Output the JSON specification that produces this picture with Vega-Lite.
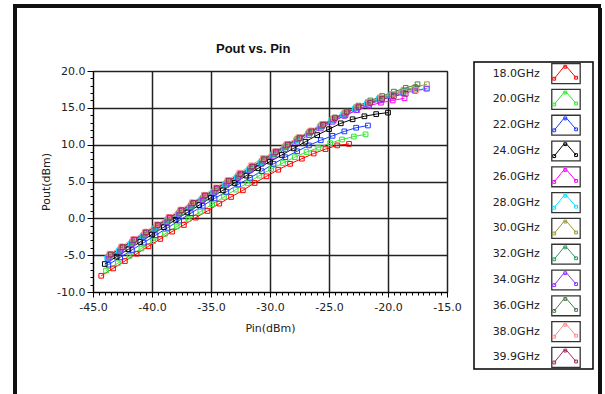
{
  "$schema": "https://vega.github.io/schema/vega-lite/v6.json",
  "padding": {"left": 13, "top": 4, "right": 4, "bottom": 0},
  "background": "white",
  "config": {"font": "DejaVu Sans", "view": {"stroke": null}},
  "title": {
    "text": "Pout vs. Pin",
    "font": "Liberation Sans", "fontSize": 13, "fontWeight": "bold", "color": "#111111",
    "anchor": "start", "dx": 203, "offset": -52
  },
  "datasets": {
    "leg": [
      {"f": "18.0GHz"}, {"f": "20.0GHz"}, {"f": "22.0GHz"}, {"f": "24.0GHz"}, {"f": "26.0GHz"}, {"f": "28.0GHz"},
      {"f": "30.0GHz"}, {"f": "32.0GHz"}, {"f": "34.0GHz"}, {"f": "36.0GHz"}, {"f": "38.0GHz"}, {"f": "39.9GHz"}
    ],
    "pts": [
      {"f":"18.0GHz","pin":-44.3,"pout":-7.8},{"f":"18.0GHz","pin":-43.3,"pout":-6.8},{"f":"18.0GHz","pin":-42.3,"pout":-5.8},{"f":"18.0GHz","pin":-41.3,"pout":-4.8},{"f":"18.0GHz","pin":-40.3,"pout":-3.8},{"f":"18.0GHz","pin":-39.3,"pout":-2.8},{"f":"18.0GHz","pin":-38.3,"pout":-1.8},{"f":"18.0GHz","pin":-37.3,"pout":-0.9},{"f":"18.0GHz","pin":-36.3,"pout":0.1},{"f":"18.0GHz","pin":-35.3,"pout":1.0},{"f":"18.0GHz","pin":-34.3,"pout":2.0},{"f":"18.0GHz","pin":-33.3,"pout":2.9},{"f":"18.0GHz","pin":-32.3,"pout":3.8},{"f":"18.0GHz","pin":-31.3,"pout":4.8},{"f":"18.0GHz","pin":-30.3,"pout":5.7},{"f":"18.0GHz","pin":-29.3,"pout":6.6},{"f":"18.0GHz","pin":-28.3,"pout":7.4},{"f":"18.0GHz","pin":-27.3,"pout":8.1},{"f":"18.0GHz","pin":-26.3,"pout":8.8},{"f":"18.0GHz","pin":-25.3,"pout":9.4},{"f":"18.0GHz","pin":-24.3,"pout":9.9},{"f":"18.0GHz","pin":-23.3,"pout":10.1},
      {"f":"20.0GHz","pin":-43.9,"pout":-7.1},{"f":"20.0GHz","pin":-42.9,"pout":-6.1},{"f":"20.0GHz","pin":-41.9,"pout":-5.1},{"f":"20.0GHz","pin":-40.9,"pout":-4.1},{"f":"20.0GHz","pin":-39.9,"pout":-3.1},{"f":"20.0GHz","pin":-38.9,"pout":-2.1},{"f":"20.0GHz","pin":-37.9,"pout":-1.1},{"f":"20.0GHz","pin":-36.9,"pout":-0.1},{"f":"20.0GHz","pin":-35.9,"pout":0.9},{"f":"20.0GHz","pin":-34.9,"pout":1.9},{"f":"20.0GHz","pin":-33.9,"pout":2.9},{"f":"20.0GHz","pin":-32.9,"pout":3.9},{"f":"20.0GHz","pin":-31.9,"pout":4.8},{"f":"20.0GHz","pin":-30.9,"pout":5.8},{"f":"20.0GHz","pin":-29.9,"pout":6.7},{"f":"20.0GHz","pin":-28.9,"pout":7.5},{"f":"20.0GHz","pin":-27.9,"pout":8.3},{"f":"20.0GHz","pin":-26.9,"pout":9.0},{"f":"20.0GHz","pin":-25.9,"pout":9.6},{"f":"20.0GHz","pin":-24.9,"pout":10.2},{"f":"20.0GHz","pin":-23.9,"pout":10.7},{"f":"20.0GHz","pin":-22.9,"pout":11.1},{"f":"20.0GHz","pin":-21.9,"pout":11.4},
      {"f":"22.0GHz","pin":-43.7,"pout":-6.3},{"f":"22.0GHz","pin":-42.7,"pout":-5.3},{"f":"22.0GHz","pin":-41.7,"pout":-4.3},{"f":"22.0GHz","pin":-40.7,"pout":-3.3},{"f":"22.0GHz","pin":-39.7,"pout":-2.3},{"f":"22.0GHz","pin":-38.7,"pout":-1.3},{"f":"22.0GHz","pin":-37.7,"pout":-0.3},{"f":"22.0GHz","pin":-36.7,"pout":0.7},{"f":"22.0GHz","pin":-35.7,"pout":1.7},{"f":"22.0GHz","pin":-34.7,"pout":2.7},{"f":"22.0GHz","pin":-33.7,"pout":3.6},{"f":"22.0GHz","pin":-32.7,"pout":4.6},{"f":"22.0GHz","pin":-31.7,"pout":5.5},{"f":"22.0GHz","pin":-30.7,"pout":6.4},{"f":"22.0GHz","pin":-29.7,"pout":7.4},{"f":"22.0GHz","pin":-28.7,"pout":8.3},{"f":"22.0GHz","pin":-27.7,"pout":9.1},{"f":"22.0GHz","pin":-26.7,"pout":9.9},{"f":"22.0GHz","pin":-25.7,"pout":10.6},{"f":"22.0GHz","pin":-24.7,"pout":11.2},{"f":"22.0GHz","pin":-23.7,"pout":11.8},{"f":"22.0GHz","pin":-22.7,"pout":12.3},{"f":"22.0GHz","pin":-21.7,"pout":12.6},
      {"f":"24.0GHz","pin":-44,"pout":-6.2},{"f":"24.0GHz","pin":-43,"pout":-5.2},{"f":"24.0GHz","pin":-42,"pout":-4.2},{"f":"24.0GHz","pin":-41,"pout":-3.2},{"f":"24.0GHz","pin":-40,"pout":-2.2},{"f":"24.0GHz","pin":-39,"pout":-1.2},{"f":"24.0GHz","pin":-38,"pout":-0.2},{"f":"24.0GHz","pin":-37,"pout":0.8},{"f":"24.0GHz","pin":-36,"pout":1.8},{"f":"24.0GHz","pin":-35,"pout":2.8},{"f":"24.0GHz","pin":-34,"pout":3.8},{"f":"24.0GHz","pin":-33,"pout":4.8},{"f":"24.0GHz","pin":-32,"pout":5.8},{"f":"24.0GHz","pin":-31,"pout":6.8},{"f":"24.0GHz","pin":-30,"pout":7.7},{"f":"24.0GHz","pin":-29,"pout":8.6},{"f":"24.0GHz","pin":-28,"pout":9.5},{"f":"24.0GHz","pin":-27,"pout":10.4},{"f":"24.0GHz","pin":-26,"pout":11.3},{"f":"24.0GHz","pin":-25,"pout":12.1},{"f":"24.0GHz","pin":-24,"pout":12.9},{"f":"24.0GHz","pin":-23,"pout":13.45},{"f":"24.0GHz","pin":-22,"pout":13.85},{"f":"24.0GHz","pin":-21,"pout":14.15},{"f":"24.0GHz","pin":-20,"pout":14.35},
      {"f":"26.0GHz","pin":-43.6,"pout":-5.0},{"f":"26.0GHz","pin":-42.6,"pout":-4.0},{"f":"26.0GHz","pin":-41.6,"pout":-3.0},{"f":"26.0GHz","pin":-40.6,"pout":-2.0},{"f":"26.0GHz","pin":-39.6,"pout":-1.0},{"f":"26.0GHz","pin":-38.6,"pout":0.0},{"f":"26.0GHz","pin":-37.6,"pout":1.0},{"f":"26.0GHz","pin":-36.6,"pout":2.0},{"f":"26.0GHz","pin":-35.6,"pout":3.0},{"f":"26.0GHz","pin":-34.6,"pout":4.0},{"f":"26.0GHz","pin":-33.6,"pout":5.0},{"f":"26.0GHz","pin":-32.6,"pout":5.9},{"f":"26.0GHz","pin":-31.6,"pout":6.9},{"f":"26.0GHz","pin":-30.6,"pout":7.9},{"f":"26.0GHz","pin":-29.6,"pout":8.9},{"f":"26.0GHz","pin":-28.6,"pout":9.9},{"f":"26.0GHz","pin":-27.6,"pout":10.8},{"f":"26.0GHz","pin":-26.6,"pout":11.7},{"f":"26.0GHz","pin":-25.6,"pout":12.5},{"f":"26.0GHz","pin":-24.6,"pout":13.3},{"f":"26.0GHz","pin":-23.6,"pout":14.0},{"f":"26.0GHz","pin":-22.6,"pout":14.7},{"f":"26.0GHz","pin":-21.6,"pout":15.3},{"f":"26.0GHz","pin":-20.6,"pout":15.7},{"f":"26.0GHz","pin":-19.6,"pout":16.0},{"f":"26.0GHz","pin":-18.6,"pout":16.3},
      {"f":"28.0GHz","pin":-43.8,"pout":-5.4},{"f":"28.0GHz","pin":-42.8,"pout":-4.4},{"f":"28.0GHz","pin":-41.8,"pout":-3.4},{"f":"28.0GHz","pin":-40.8,"pout":-2.4},{"f":"28.0GHz","pin":-39.8,"pout":-1.4},{"f":"28.0GHz","pin":-38.8,"pout":-0.4},{"f":"28.0GHz","pin":-37.8,"pout":0.6},{"f":"28.0GHz","pin":-36.8,"pout":1.6},{"f":"28.0GHz","pin":-35.8,"pout":2.6},{"f":"28.0GHz","pin":-34.8,"pout":3.6},{"f":"28.0GHz","pin":-33.8,"pout":4.6},{"f":"28.0GHz","pin":-32.8,"pout":5.6},{"f":"28.0GHz","pin":-31.8,"pout":6.6},{"f":"28.0GHz","pin":-30.8,"pout":7.6},{"f":"28.0GHz","pin":-29.8,"pout":8.6},{"f":"28.0GHz","pin":-28.8,"pout":9.6},{"f":"28.0GHz","pin":-27.8,"pout":10.6},{"f":"28.0GHz","pin":-26.8,"pout":11.5},{"f":"28.0GHz","pin":-25.8,"pout":12.4},{"f":"28.0GHz","pin":-24.8,"pout":13.3},{"f":"28.0GHz","pin":-23.8,"pout":14.1},{"f":"28.0GHz","pin":-22.8,"pout":14.9},{"f":"28.0GHz","pin":-21.8,"pout":15.6},{"f":"28.0GHz","pin":-20.8,"pout":16.2},{"f":"28.0GHz","pin":-19.8,"pout":16.7},{"f":"28.0GHz","pin":-18.8,"pout":17.1},{"f":"28.0GHz","pin":-17.8,"pout":17.4},{"f":"28.0GHz","pin":-16.8,"pout":17.6},
      {"f":"30.0GHz","pin":-43.7,"pout":-5.2},{"f":"30.0GHz","pin":-42.7,"pout":-4.2},{"f":"30.0GHz","pin":-41.7,"pout":-3.2},{"f":"30.0GHz","pin":-40.7,"pout":-2.2},{"f":"30.0GHz","pin":-39.7,"pout":-1.2},{"f":"30.0GHz","pin":-38.7,"pout":-0.2},{"f":"30.0GHz","pin":-37.7,"pout":0.8},{"f":"30.0GHz","pin":-36.7,"pout":1.8},{"f":"30.0GHz","pin":-35.7,"pout":2.8},{"f":"30.0GHz","pin":-34.7,"pout":3.8},{"f":"30.0GHz","pin":-33.7,"pout":4.8},{"f":"30.0GHz","pin":-32.7,"pout":5.8},{"f":"30.0GHz","pin":-31.7,"pout":6.8},{"f":"30.0GHz","pin":-30.7,"pout":7.8},{"f":"30.0GHz","pin":-29.7,"pout":8.8},{"f":"30.0GHz","pin":-28.7,"pout":9.8},{"f":"30.0GHz","pin":-27.7,"pout":10.8},{"f":"30.0GHz","pin":-26.7,"pout":11.7},{"f":"30.0GHz","pin":-25.7,"pout":12.6},{"f":"30.0GHz","pin":-24.7,"pout":13.5},{"f":"30.0GHz","pin":-23.7,"pout":14.3},{"f":"30.0GHz","pin":-22.7,"pout":15.1},{"f":"30.0GHz","pin":-21.7,"pout":15.8},{"f":"30.0GHz","pin":-20.7,"pout":16.4},{"f":"30.0GHz","pin":-19.7,"pout":16.9},{"f":"30.0GHz","pin":-18.7,"pout":17.4},{"f":"30.0GHz","pin":-17.7,"pout":17.8},{"f":"30.0GHz","pin":-16.7,"pout":18.2},
      {"f":"32.0GHz","pin":-43.6,"pout":-5.3},{"f":"32.0GHz","pin":-42.6,"pout":-4.3},{"f":"32.0GHz","pin":-41.6,"pout":-3.3},{"f":"32.0GHz","pin":-40.6,"pout":-2.3},{"f":"32.0GHz","pin":-39.6,"pout":-1.3},{"f":"32.0GHz","pin":-38.6,"pout":-0.3},{"f":"32.0GHz","pin":-37.6,"pout":0.7},{"f":"32.0GHz","pin":-36.6,"pout":1.7},{"f":"32.0GHz","pin":-35.6,"pout":2.7},{"f":"32.0GHz","pin":-34.6,"pout":3.7},{"f":"32.0GHz","pin":-33.6,"pout":4.7},{"f":"32.0GHz","pin":-32.6,"pout":5.7},{"f":"32.0GHz","pin":-31.6,"pout":6.7},{"f":"32.0GHz","pin":-30.6,"pout":7.7},{"f":"32.0GHz","pin":-29.6,"pout":8.7},{"f":"32.0GHz","pin":-28.6,"pout":9.7},{"f":"32.0GHz","pin":-27.6,"pout":10.7},{"f":"32.0GHz","pin":-26.6,"pout":11.6},{"f":"32.0GHz","pin":-25.6,"pout":12.5},{"f":"32.0GHz","pin":-24.6,"pout":13.4},{"f":"32.0GHz","pin":-23.6,"pout":14.2},{"f":"32.0GHz","pin":-22.6,"pout":15.0},{"f":"32.0GHz","pin":-21.6,"pout":15.7},{"f":"32.0GHz","pin":-20.6,"pout":16.3},{"f":"32.0GHz","pin":-19.6,"pout":16.8},{"f":"32.0GHz","pin":-18.6,"pout":17.3},{"f":"32.0GHz","pin":-17.6,"pout":17.7},
      {"f":"34.0GHz","pin":-43.7,"pout":-5.5},{"f":"34.0GHz","pin":-42.7,"pout":-4.5},{"f":"34.0GHz","pin":-41.7,"pout":-3.5},{"f":"34.0GHz","pin":-40.7,"pout":-2.5},{"f":"34.0GHz","pin":-39.7,"pout":-1.5},{"f":"34.0GHz","pin":-38.7,"pout":-0.5},{"f":"34.0GHz","pin":-37.7,"pout":0.5},{"f":"34.0GHz","pin":-36.7,"pout":1.5},{"f":"34.0GHz","pin":-35.7,"pout":2.5},{"f":"34.0GHz","pin":-34.7,"pout":3.5},{"f":"34.0GHz","pin":-33.7,"pout":4.5},{"f":"34.0GHz","pin":-32.7,"pout":5.5},{"f":"34.0GHz","pin":-31.7,"pout":6.5},{"f":"34.0GHz","pin":-30.7,"pout":7.4},{"f":"34.0GHz","pin":-29.7,"pout":8.4},{"f":"34.0GHz","pin":-28.7,"pout":9.4},{"f":"34.0GHz","pin":-27.7,"pout":10.4},{"f":"34.0GHz","pin":-26.7,"pout":11.3},{"f":"34.0GHz","pin":-25.7,"pout":12.2},{"f":"34.0GHz","pin":-24.7,"pout":13.1},{"f":"34.0GHz","pin":-23.7,"pout":13.9},{"f":"34.0GHz","pin":-22.7,"pout":14.7},{"f":"34.0GHz","pin":-21.7,"pout":15.4},{"f":"34.0GHz","pin":-20.7,"pout":16.0},{"f":"34.0GHz","pin":-19.7,"pout":16.5},{"f":"34.0GHz","pin":-18.7,"pout":17.0},{"f":"34.0GHz","pin":-17.7,"pout":17.3},{"f":"34.0GHz","pin":-16.7,"pout":17.6},
      {"f":"36.0GHz","pin":-43.5,"pout":-4.9},{"f":"36.0GHz","pin":-42.5,"pout":-3.9},{"f":"36.0GHz","pin":-41.5,"pout":-2.9},{"f":"36.0GHz","pin":-40.5,"pout":-1.9},{"f":"36.0GHz","pin":-39.5,"pout":-0.9},{"f":"36.0GHz","pin":-38.5,"pout":0.1},{"f":"36.0GHz","pin":-37.5,"pout":1.1},{"f":"36.0GHz","pin":-36.5,"pout":2.1},{"f":"36.0GHz","pin":-35.5,"pout":3.1},{"f":"36.0GHz","pin":-34.5,"pout":4.1},{"f":"36.0GHz","pin":-33.5,"pout":5.1},{"f":"36.0GHz","pin":-32.5,"pout":6.1},{"f":"36.0GHz","pin":-31.5,"pout":7.1},{"f":"36.0GHz","pin":-30.5,"pout":8.1},{"f":"36.0GHz","pin":-29.5,"pout":9.1},{"f":"36.0GHz","pin":-28.5,"pout":10.1},{"f":"36.0GHz","pin":-27.5,"pout":11.0},{"f":"36.0GHz","pin":-26.5,"pout":11.9},{"f":"36.0GHz","pin":-25.5,"pout":12.8},{"f":"36.0GHz","pin":-24.5,"pout":13.7},{"f":"36.0GHz","pin":-23.5,"pout":14.5},{"f":"36.0GHz","pin":-22.5,"pout":15.3},{"f":"36.0GHz","pin":-21.5,"pout":16.0},{"f":"36.0GHz","pin":-20.5,"pout":16.6},{"f":"36.0GHz","pin":-19.5,"pout":17.2},{"f":"36.0GHz","pin":-18.5,"pout":17.7},{"f":"36.0GHz","pin":-17.5,"pout":18.2},
      {"f":"38.0GHz","pin":-43.6,"pout":-4.8},{"f":"38.0GHz","pin":-42.6,"pout":-3.8},{"f":"38.0GHz","pin":-41.6,"pout":-2.8},{"f":"38.0GHz","pin":-40.6,"pout":-1.8},{"f":"38.0GHz","pin":-39.6,"pout":-0.8},{"f":"38.0GHz","pin":-38.6,"pout":0.2},{"f":"38.0GHz","pin":-37.6,"pout":1.2},{"f":"38.0GHz","pin":-36.6,"pout":2.2},{"f":"38.0GHz","pin":-35.6,"pout":3.2},{"f":"38.0GHz","pin":-34.6,"pout":4.2},{"f":"38.0GHz","pin":-33.6,"pout":5.2},{"f":"38.0GHz","pin":-32.6,"pout":6.2},{"f":"38.0GHz","pin":-31.6,"pout":7.2},{"f":"38.0GHz","pin":-30.6,"pout":8.2},{"f":"38.0GHz","pin":-29.6,"pout":9.1},{"f":"38.0GHz","pin":-28.6,"pout":10.1},{"f":"38.0GHz","pin":-27.6,"pout":11.0},{"f":"38.0GHz","pin":-26.6,"pout":11.9},{"f":"38.0GHz","pin":-25.6,"pout":12.8},{"f":"38.0GHz","pin":-24.6,"pout":13.6},{"f":"38.0GHz","pin":-23.6,"pout":14.4},{"f":"38.0GHz","pin":-22.6,"pout":15.1},{"f":"38.0GHz","pin":-21.6,"pout":15.8},{"f":"38.0GHz","pin":-20.6,"pout":16.4},{"f":"38.0GHz","pin":-19.6,"pout":16.9},{"f":"38.0GHz","pin":-18.6,"pout":17.2},{"f":"38.0GHz","pin":-17.6,"pout":17.4},
      {"f":"39.9GHz","pin":-43.5,"pout":-4.9},{"f":"39.9GHz","pin":-42.5,"pout":-3.9},{"f":"39.9GHz","pin":-41.5,"pout":-2.9},{"f":"39.9GHz","pin":-40.5,"pout":-1.9},{"f":"39.9GHz","pin":-39.5,"pout":-0.9},{"f":"39.9GHz","pin":-38.5,"pout":0.1},{"f":"39.9GHz","pin":-37.5,"pout":1.1},{"f":"39.9GHz","pin":-36.5,"pout":2.1},{"f":"39.9GHz","pin":-35.5,"pout":3.1},{"f":"39.9GHz","pin":-34.5,"pout":4.1},{"f":"39.9GHz","pin":-33.5,"pout":5.1},{"f":"39.9GHz","pin":-32.5,"pout":6.0},{"f":"39.9GHz","pin":-31.5,"pout":7.0},{"f":"39.9GHz","pin":-30.5,"pout":8.0},{"f":"39.9GHz","pin":-29.5,"pout":9.0},{"f":"39.9GHz","pin":-28.5,"pout":10.0},{"f":"39.9GHz","pin":-27.5,"pout":10.9},{"f":"39.9GHz","pin":-26.5,"pout":11.8},{"f":"39.9GHz","pin":-25.5,"pout":12.7},{"f":"39.9GHz","pin":-24.5,"pout":13.6},{"f":"39.9GHz","pin":-23.5,"pout":14.4},{"f":"39.9GHz","pin":-22.5,"pout":15.1},{"f":"39.9GHz","pin":-21.5,"pout":15.7},{"f":"39.9GHz","pin":-20.5,"pout":16.2},{"f":"39.9GHz","pin":-19.5,"pout":16.6},{"f":"39.9GHz","pin":-18.5,"pout":16.9}
    ]
  },
  "spacing": 0,
  "vconcat": [
    {
      "width": 588, "height": 4,
      "view": {"fill": "#111111", "stroke": null},
      "data": {"values": []},
      "mark": "rect"
    },
    {
      "spacing": 23,
      "hconcat": [
        {
          "width": 4, "height": 386,
          "view": {"fill": "#111111", "stroke": null},
          "data": {"values": []},
          "mark": "rect"
        },
        {
          "spacing": 4,
          "hconcat": [
            {
              "spacing": 0,
              "vconcat": [
                {
                  "width": 1, "height": 52,
                  "view": {"stroke": null},
                  "data": {"values": []},
                  "mark": "rect"
                },
                {
                  "spacing": 11,
                  "hconcat": [
                    {
                      "spacing": 0,
                      "vconcat": [
                        {
                          "width": 1, "height": 1.5,
                          "view": {"stroke": null},
                          "data": {"values": []},
                          "mark": "rect"
                        },
                        {
                          "width": 354, "height": 221,
                          "view": {"stroke": "#000000", "strokeWidth": 1},
                          "data": {"name": "pts"},
                          "layer": [
                            {
                              "mark": {"type": "line", "strokeWidth": 1},
                              "encoding": {
                                "x": {"field": "pin", "type": "quantitative", "scale": {"domain": [-45, -15], "nice": false, "zero": false},
                                  "axis": {"orient": "bottom", "values": [-45, -40, -35, -30, -25, -20, -15], "format": ".1f", "labelExpr": "replace(datum.label, '\u2212', '-')", "grid": true, "gridColor": "#222222", "gridWidth": 1.5,
                                    "domainColor": "#000000", "tickColor": "#000000", "tickSize": 5, "labelFontSize": 11, "labelColor": "#222222", "labelPadding": 4,
                                    "labelFlush": false, "labelOverlap": false, "title": "Pin(dBm)", "titleFontSize": 11, "titleFontWeight": "normal", "titleColor": "#222222", "titlePadding": 10}},
                                "y": {"field": "pout", "type": "quantitative", "scale": {"domain": [-10, 20], "nice": false, "zero": false},
                                  "axis": {"orient": "left", "values": [-10, -5, 0, 5, 10, 15, 20], "format": ".1f", "labelExpr": "replace(datum.label, '\u2212', '-')", "grid": true, "gridColor": "#222222", "gridWidth": 1.5,
                                    "domainColor": "#000000", "tickColor": "#000000", "tickSize": 6, "labelFontSize": 11, "labelColor": "#222222", "labelPadding": 2,
                                    "labelOverlap": false, "title": "Pout(dBm)", "titleFontSize": 11, "titleFontWeight": "normal", "titleColor": "#222222", "titlePadding": 5}},
                                "color": {"field": "f", "type": "nominal", "legend": null,
                                  "scale": {"domain": ["18.0GHz", "20.0GHz", "22.0GHz", "24.0GHz", "26.0GHz", "28.0GHz", "30.0GHz", "32.0GHz", "34.0GHz", "36.0GHz", "38.0GHz", "39.9GHz"],
                                    "range": ["#ff0000", "#33e633", "#1a3cff", "#000000", "#ff00ff", "#00e5ff", "#999933", "#2e9960", "#8c33ff", "#4a7a4a", "#ff8c8c", "#9c2b5e"]}}
                              }
                            },
                            {
                              "mark": {"type": "point", "shape": "square", "size": 22, "filled": false, "strokeWidth": 1, "opacity": 1},
                              "encoding": {
                                "x": {"field": "pin", "type": "quantitative", "scale": {"domain": [-45, -15], "nice": false, "zero": false}, "axis": null},
                                "y": {"field": "pout", "type": "quantitative", "scale": {"domain": [-10, 20], "nice": false, "zero": false}, "axis": null},
                                "color": {"field": "f", "type": "nominal", "legend": null}
                              }
                            },
                            {
                              "mark": {"type": "point", "opacity": 0},
                              "encoding": {
                                "x": {"field": "pin", "type": "quantitative", "scale": {"domain": [-45, -15], "nice": false, "zero": false},
                                  "axis": {"orient": "bottom", "tickCount": 60, "labels": false, "grid": false, "domain": false, "tickSize": 3, "tickColor": "#000000", "title": null}},
                                "y": {"field": "pout", "type": "quantitative", "scale": {"domain": [-10, 20], "nice": false, "zero": false},
                                  "axis": {"orient": "left", "tickCount": 30, "labels": false, "grid": false, "domain": false, "tickSize": 3, "tickColor": "#000000", "title": null}}
                              }
                            }
                          ],
                          "resolve": {"axis": {"x": "independent", "y": "independent"}}
                        }
                      ]
                    },
                    {
                      "width": 119, "height": 307,
                      "view": {"stroke": "#000000", "strokeWidth": 1.5, "fill": "white"},
                      "data": {"name": "leg"},
                      "encoding": {
                        "y": {"field": "f", "type": "nominal", "sort": null, "scale": {"type": "point", "padding": 0.45}, "axis": null}
                      },
                      "layer": [
                        {
                          "mark": {"type": "text", "align": "right", "baseline": "middle", "fontSize": 11, "color": "#222222"},
                          "encoding": {
                            "x": {"datum": 0.552, "type": "quantitative", "scale": {"domain": [0, 1], "nice": false, "zero": false}, "axis": null},
                            "text": {"field": "f"}
                          }
                        },
                        {
                          "mark": {"type": "point", "shape": "M-1,-0.7H1V0.7H-1Z", "size": 807, "filled": true, "fill": "white", "stroke": "#333333", "strokeWidth": 1.3, "opacity": 1},
                          "encoding": {
                            "x": {"datum": 0.773, "type": "quantitative"}
                          }
                        },
                        {
                          "mark": {"type": "point", "shape": "M-0.83,0.36L-0.15,-0.48L0.05,-0.48L0.71,0.29M-0.93,0.26h0.2v0.2h-0.2ZM-0.15,-0.58h0.2v0.2h-0.2ZM0.61,0.19h0.2v0.2h-0.2Z", "size": 807, "filled": false, "strokeWidth": 1, "opacity": 1},
                          "encoding": {
                            "x": {"datum": 0.773, "type": "quantitative"},
                            "color": {"field": "f", "type": "nominal", "legend": null}
                          }
                        }
                      ]
                    }
                  ]
                }
              ]
            },
            {
              "width": 4, "height": 386,
              "view": {"fill": "#111111", "stroke": null},
              "data": {"values": []},
              "mark": "rect"
            }
          ]
        }
      ]
    }
  ]
}
